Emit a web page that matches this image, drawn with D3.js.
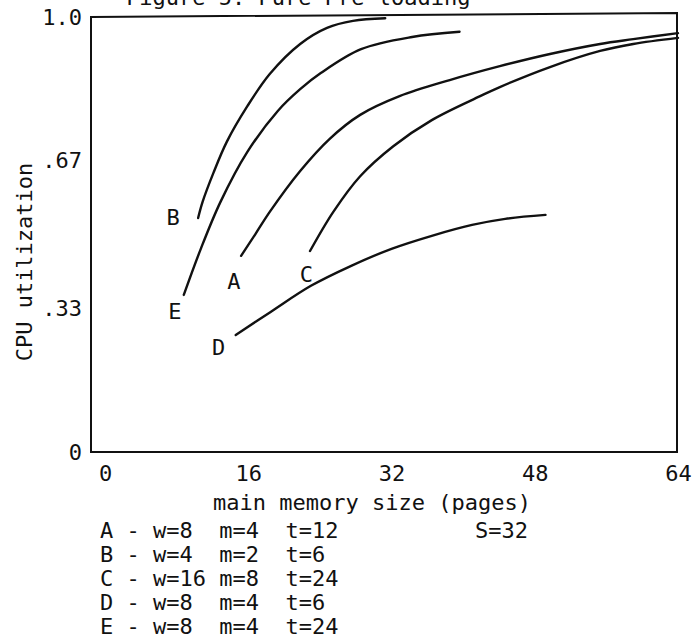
<!DOCTYPE html>
<html>
<head>
<meta charset="utf-8">
<script src="https://cdn.jsdelivr.net/npm/d3@7"></script>
<style>
  body { margin: 0; background: #fff; }
  svg text { font-family: "DejaVu Sans Mono", monospace; fill: #111; white-space: pre; }
</style>
</head>
<body>
<div id="chart"></div>
<script>
// tick labels
const xTicks = [0, 16, 32, 48, 64];
const yTicks = [0, 0.33, 0.67, 1.0];
const yTickLabels = ["0", ".33", ".67", "1.0"];

// curves (x = pages, y = CPU utilization)
const seriesKeys = ["A", "B", "C", "D", "E"];
const xA = [15.2, 16.8, 18.4, 21.8, 25.1, 28.5, 32.9, 38.5, 44.1, 49.7, 55.3, 59.0, 64];
const yA = [0.451, 0.501, 0.552, 0.646, 0.720, 0.775, 0.818, 0.855, 0.887, 0.915, 0.938, 0.949, 0.963];
const xB = [10.4, 10.9, 12.1, 13.6, 15.9, 18.4, 21.8, 24.8, 27.7, 31.3];
const yB = [0.538, 0.575, 0.641, 0.713, 0.795, 0.869, 0.938, 0.975, 0.991, 0.997];
const xC = [22.9, 25.5, 28.5, 32.2, 36.5, 41.9, 44.1, 49.7, 55.3, 59.0, 64];
const yC = [0.462, 0.552, 0.634, 0.703, 0.763, 0.818, 0.839, 0.885, 0.922, 0.938, 0.952];
const xD = [14.6, 18.5, 23.0, 27.5, 32.0, 36.5, 41.0, 44.7, 49.2];
const yD = [0.269, 0.322, 0.382, 0.428, 0.467, 0.497, 0.522, 0.536, 0.545];
const xE = [8.8, 10.7, 12.9, 15.9, 19.3, 21.8, 24.1, 28.6, 34.3, 39.6];
const yE = [0.361, 0.467, 0.575, 0.690, 0.784, 0.834, 0.871, 0.926, 0.954, 0.966];

// curve letter annotations (data coords)
const labelX = [14.4, 7.6, 22.5, 12.7, 7.8];
const labelY = [0.393, 0.540, 0.407, 0.241, 0.322];

// parameters listed under the chart
const wVals = [8, 4, 16, 8, 8];
const mVals = [4, 2, 8, 4, 4];
const tVals = [12, 6, 24, 6, 24];

const title = "Figure 5. Pure Pre-loading";
const xTitle = "main memory size (pages)";
const yTitle = "CPU utilization";
const note = "S=32";

const width = 697, height = 639;
const fontSize = 22;

const svg = d3.select("#chart").append("svg")
    .attr("width", width)
    .attr("height", height);

const x = d3.scaleLinear().domain([0, 64]).range([105, 678]);
const y = d3.scaleLinear().domain([0, 1]).range([452, 17]);

// frame (the original is slightly skewed at the top)
const frameLeft = 91, frameRight = 677;
svg.append("path")
    .attr("d", `M${frameLeft},${y(1)} L${frameRight},${y(1) - 4} L${frameRight},${y(0)} L${frameLeft},${y(0)} Z`)
    .attr("fill", "none")
    .attr("stroke", "#111")
    .attr("stroke-width", 2);

// title, partly off the top of the page
svg.append("text")
    .attr("x", 126)
    .attr("y", 5)
    .style("font-size", fontSize + "px")
    .text(title);

// y tick labels
svg.selectAll(".ytick")
    .data(yTicks)
    .enter()
    .append("text")
    .attr("class", "ytick")
    .attr("x", 82)
    .attr("y", d => y(d))
    .attr("text-anchor", "end")
    .attr("dominant-baseline", "central")
    .style("font-size", fontSize + "px")
    .text((d, i) => yTickLabels[i]);

// x axis labels
const xAxis = d3.axisBottom(x)
    .tickValues(xTicks)
    .tickSize(0)
    .tickPadding(0)
    .tickFormat(d3.format("d"));
const gx = svg.append("g")
    .attr("transform", "translate(0,473)")
    .call(xAxis);
gx.select(".domain").remove();
gx.selectAll("text")
    .attr("font-family", null)
    .attr("dy", null)
    .attr("dominant-baseline", "central")
    .style("font-size", fontSize + "px");

// axis titles
svg.append("text")
    .attr("x", 213)
    .attr("y", 502)
    .attr("dominant-baseline", "central")
    .style("font-size", fontSize + "px")
    .text(xTitle);

svg.append("text")
    .attr("transform", "translate(24,262) rotate(-90)")
    .attr("text-anchor", "middle")
    .attr("dominant-baseline", "central")
    .style("font-size", fontSize + "px")
    .text(yTitle);

// curves
const series = [
    {xs: xA, ys: yA},
    {xs: xB, ys: yB},
    {xs: xC, ys: yC},
    {xs: xD, ys: yD},
    {xs: xE, ys: yE}
];
const line = d3.line()
    .x(d => x(d[0]))
    .y(d => y(d[1]))
    .curve(d3.curveCatmullRom.alpha(0.5));

svg.selectAll(".curve")
    .data(series)
    .enter()
    .append("path")
    .attr("class", "curve")
    .attr("d", s => line(s.xs.map((v, i) => [v, s.ys[i]])))
    .attr("fill", "none")
    .attr("stroke", "#111")
    .attr("stroke-width", 2.4)
    .attr("stroke-linecap", "round");

svg.selectAll(".clabel")
    .data(seriesKeys)
    .enter()
    .append("text")
    .attr("class", "clabel")
    .attr("x", (d, i) => x(labelX[i]))
    .attr("y", (d, i) => y(labelY[i]))
    .attr("text-anchor", "middle")
    .attr("dominant-baseline", "central")
    .style("font-size", fontSize + "px")
    .text(d => d);

// parameter list, typewriter columns
const rowText = (k, i) =>
    `${k} - ${("w=" + wVals[i]).padEnd(4)} m=${mVals[i]}  t=${tVals[i]}`;

svg.selectAll(".row")
    .data(seriesKeys)
    .enter()
    .append("text")
    .attr("class", "row")
    .attr("x", 100)
    .attr("y", (d, i) => 530 + i * 24)
    .attr("dominant-baseline", "central")
    .style("font-size", fontSize + "px")
    .text(rowText);

svg.append("text")
    .attr("x", 475)
    .attr("y", 530)
    .attr("dominant-baseline", "central")
    .style("font-size", fontSize + "px")
    .text(note);
</script>
</body>
</html>
